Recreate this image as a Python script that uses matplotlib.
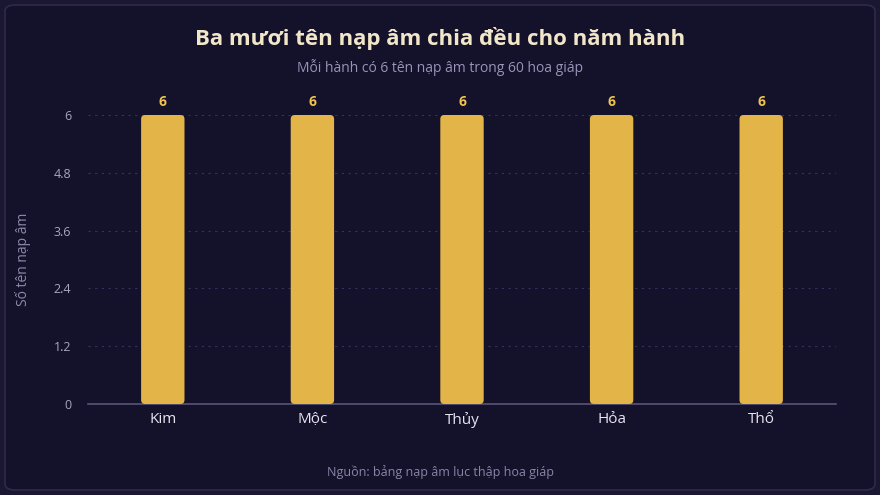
import matplotlib.pyplot as plt
from matplotlib.patches import FancyBboxPatch

hanh = ['Kim', 'Mộc', 'Thủy', 'Hỏa', 'Thổ']
so_ten = [6, 6, 6, 6, 6]
yticks = [0, 1.2, 2.4, 3.6, 4.8, 6]

plt.rcParams['font.family'] = ['Open Sans', 'DejaVu Sans']

fig = plt.figure(figsize=(8.8, 4.95), dpi=100)
fig.patch.set_facecolor('#1b1733')

# card
card = FancyBboxPatch((5/880, 5/495), 870/880, 485/495,
                      boxstyle='round,pad=0,rounding_size=0.012',
                      transform=fig.transFigure, facecolor='#14112a',
                      edgecolor='#2f2a4a', linewidth=1.2, zorder=-5)
fig.patches.append(card)

ax = fig.add_axes([88/880, 1 - 404/495, (836 - 88)/880, (404 - 115)/495])
ax.set_facecolor('none')
ax.set_zorder(2)

x = range(len(hanh))
bars = ax.bar(x, so_ten, width=0.29, color='#e3b448', zorder=3)
for b in bars:
    b.set_visible(False)
    r = FancyBboxPatch((b.get_x(), 0), b.get_width(), b.get_height(),
                       boxstyle='round,pad=0,rounding_size=0.027',
                       mutation_aspect=3.1, facecolor='#e3b448',
                       edgecolor='none', zorder=3)
    ax.add_patch(r)
    ax.text(b.get_x() + b.get_width() / 2, b.get_height() + 0.12, f'{b.get_height():g}',
            ha='center', va='bottom', color='#f0c24f', fontsize=10, fontweight='bold')

ax.set_xlim(-0.5, len(hanh) - 0.5)
ax.set_ylim(0, 6)
ax.set_yticks(yticks)
ax.set_yticklabels([f'{t:g}' for t in yticks])
ax.set_xticks(list(x))
ax.set_xticklabels(hanh)
ax.tick_params(axis='x', colors='#e8e4f2', labelsize=11, length=0, pad=6)
ax.tick_params(axis='y', colors='#a9a4c0', labelsize=9, length=0, pad=12)
ax.grid(axis='y', color='#37325a', linestyle=(0, (2, 4)), linewidth=0.8, zorder=0)
for s in ['top', 'right', 'left']:
    ax.spines[s].set_visible(False)
ax.spines['bottom'].set_color('#5a5478')
ax.spines['bottom'].set_linewidth(1.2)
ax.set_ylabel('Số tên nạp âm', color='#8f89aa', fontsize=10, labelpad=16)

fig.text(0.5, 1 - 38/495, 'Ba mươi tên nạp âm chia đều cho năm hành', ha='center', va='center',
         color='#f1e6c8', fontsize=16, fontweight='bold')
fig.text(0.5, 1 - 67/495, 'Mỗi hành có 6 tên nạp âm trong 60 hoa giáp', ha='center', va='center',
         color='#9a93b8', fontsize=10)
fig.text(0.5, 1 - 472/495, 'Nguồn: bảng nạp âm lục thập hoa giáp', ha='center', va='center',
         color='#8a84a6', fontsize=9)

fig.savefig('out.png', dpi=100, facecolor=fig.get_facecolor())
